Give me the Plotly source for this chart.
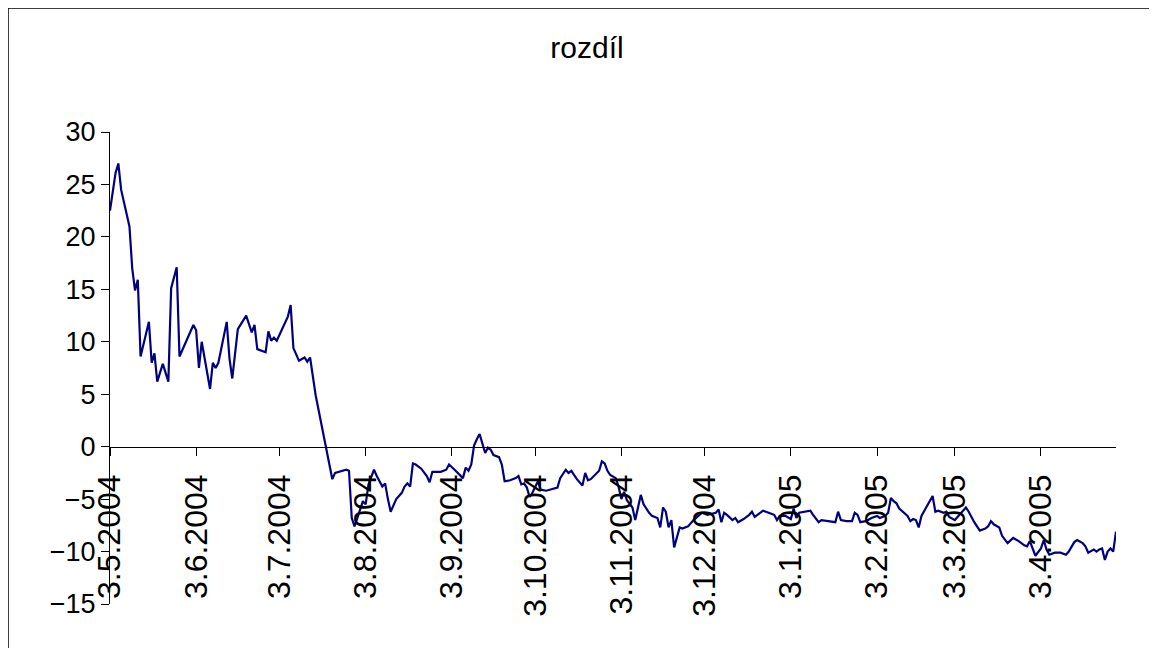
import plotly.graph_objects as go

dates = [
    "2004-05-03", "2004-05-05", "2004-05-06", "2004-05-07", "2004-05-10", "2004-05-11",
    "2004-05-12", "2004-05-13", "2004-05-14", "2004-05-17", "2004-05-18", "2004-05-19",
    "2004-05-20", "2004-05-22", "2004-05-24", "2004-05-25", "2004-05-27", "2004-05-28",
    "2004-06-02", "2004-06-03", "2004-06-04", "2004-06-05", "2004-06-08", "2004-06-09",
    "2004-06-10", "2004-06-11", "2004-06-14", "2004-06-15", "2004-06-16", "2004-06-18",
    "2004-06-21", "2004-06-22", "2004-06-23", "2004-06-24", "2004-06-25", "2004-06-28",
    "2004-06-29", "2004-06-30", "2004-07-01", "2004-07-02", "2004-07-06", "2004-07-07",
    "2004-07-08", "2004-07-10", "2004-07-12", "2004-07-13", "2004-07-14", "2004-07-16",
    "2004-07-19", "2004-07-22", "2004-07-23", "2004-07-27", "2004-07-28", "2004-07-29",
    "2004-07-30", "2004-07-31", "2004-08-02", "2004-08-03", "2004-08-04", "2004-08-06",
    "2004-08-07", "2004-08-09", "2004-08-10", "2004-08-11", "2004-08-12", "2004-08-14",
    "2004-08-16", "2004-08-17", "2004-08-18", "2004-08-19", "2004-08-20", "2004-08-21",
    "2004-08-23", "2004-08-25", "2004-08-26", "2004-08-27", "2004-08-30", "2004-09-01",
    "2004-09-02", "2004-09-04", "2004-09-05", "2004-09-07", "2004-09-08", "2004-09-09",
    "2004-09-10", "2004-09-11", "2004-09-12", "2004-09-13", "2004-09-15", "2004-09-16",
    "2004-09-17", "2004-09-18", "2004-09-20", "2004-09-21", "2004-09-22", "2004-09-24",
    "2004-09-26", "2004-09-27", "2004-09-28", "2004-09-29", "2004-09-30", "2004-10-01",
    "2004-10-02", "2004-10-04", "2004-10-05", "2004-10-07", "2004-10-11", "2004-10-12",
    "2004-10-14", "2004-10-15", "2004-10-16", "2004-10-18", "2004-10-20", "2004-10-21",
    "2004-10-22", "2004-10-23", "2004-10-26", "2004-10-27", "2004-10-28", "2004-10-29",
    "2004-10-30", "2004-11-01", "2004-11-02", "2004-11-03", "2004-11-04", "2004-11-05",
    "2004-11-07", "2004-11-08", "2004-11-10", "2004-11-11", "2004-11-13", "2004-11-14",
    "2004-11-16", "2004-11-17", "2004-11-18", "2004-11-19", "2004-11-20", "2004-11-21",
    "2004-11-22", "2004-11-24", "2004-11-25", "2004-11-27", "2004-11-29", "2004-12-01",
    "2004-12-02", "2004-12-04", "2004-12-07", "2004-12-08", "2004-12-09", "2004-12-10",
    "2004-12-11", "2004-12-13", "2004-12-14", "2004-12-15", "2004-12-17", "2004-12-19",
    "2004-12-20", "2004-12-21", "2004-12-23", "2004-12-24", "2004-12-26", "2004-12-28",
    "2004-12-29", "2004-12-30", "2005-01-01", "2005-01-03", "2005-01-04", "2005-01-05",
    "2005-01-06", "2005-01-08", "2005-01-10", "2005-01-11", "2005-01-13", "2005-01-14",
    "2005-01-17", "2005-01-19", "2005-01-20", "2005-01-21", "2005-01-23", "2005-01-25",
    "2005-01-26", "2005-01-27", "2005-01-28", "2005-01-30", "2005-02-01", "2005-02-03",
    "2005-02-04", "2005-02-06", "2005-02-07", "2005-02-08", "2005-02-09", "2005-02-10",
    "2005-02-11", "2005-02-14", "2005-02-15", "2005-02-16", "2005-02-17", "2005-02-18",
    "2005-02-19", "2005-02-21", "2005-02-23", "2005-02-24", "2005-02-25", "2005-02-27",
    "2005-02-28", "2005-03-01", "2005-03-03", "2005-03-05", "2005-03-07", "2005-03-08",
    "2005-03-10", "2005-03-12", "2005-03-14", "2005-03-15", "2005-03-16", "2005-03-17",
    "2005-03-19", "2005-03-20", "2005-03-22", "2005-03-24", "2005-03-26", "2005-03-28",
    "2005-03-29", "2005-03-30", "2005-03-31", "2005-04-01", "2005-04-03", "2005-04-04",
    "2005-04-05", "2005-04-06", "2005-04-08", "2005-04-10", "2005-04-12", "2005-04-13",
    "2005-04-15", "2005-04-16", "2005-04-18", "2005-04-19", "2005-04-20", "2005-04-22",
    "2005-04-23", "2005-04-24", "2005-04-25", "2005-04-26", "2005-04-27", "2005-04-28",
    "2005-04-29", "2005-04-30",
]

rozdil = [
    22.5, 26.1, 27.0, 24.5, 21.0, 17.0,
    14.9, 15.9, 8.6, 11.9, 8.0, 8.9,
    6.2, 7.9, 6.2, 15.1, 17.1, 8.6,
    11.6, 11.1, 7.5, 10.0, 5.5, 8.0,
    7.5, 8.0, 11.9, 8.4, 6.5, 11.2,
    12.5, 11.8, 10.9, 11.6, 9.3, 9.0,
    11.0, 10.1, 10.4, 10.1, 12.4, 13.5,
    9.4, 8.2, 8.5, 8.1, 8.5, 4.9,
    1.0, -3.1, -2.5, -2.2, -2.3, -6.8,
    -7.6, -6.8, -5.2, -5.5, -3.6, -2.2,
    -2.8, -3.8, -3.5, -5.0, -6.2, -5.0,
    -4.4, -3.8, -3.5, -3.8, -1.6, -1.7,
    -2.1, -2.8, -3.4, -2.4, -2.4, -2.2,
    -1.7, -2.2, -2.5, -3.0, -2.0, -2.3,
    -1.7, 0.1, 0.7, 1.2, -0.6, -0.1,
    -0.3, -0.8, -1.0, -1.7, -3.3, -3.2,
    -3.0, -2.8, -3.6, -3.5, -3.9, -4.8,
    -4.4, -3.3, -4.1, -4.2, -3.9, -3.0,
    -2.2, -2.5, -2.3, -3.1, -3.7, -2.5,
    -3.2, -3.1, -2.3, -1.4, -1.6, -2.3,
    -2.7, -3.0, -3.8, -5.0, -4.3, -5.1,
    -5.8, -7.0, -4.6, -5.5, -6.3, -6.6,
    -6.8, -7.7, -5.8, -6.2, -7.7, -7.0,
    -9.6, -7.7, -7.8, -7.6, -7.0, -6.5,
    -6.3, -6.5, -6.3, -6.0, -7.2, -6.3,
    -6.5, -7.0, -6.8, -7.2, -6.9, -6.5,
    -6.2, -6.7, -6.3, -6.1, -6.3, -6.5,
    -7.0, -6.6, -6.6, -6.9, -5.9, -6.8,
    -6.3, -6.2, -6.1, -6.5, -7.2, -7.0,
    -7.1, -7.2, -6.2, -7.0, -7.1, -7.1,
    -6.3, -6.5, -7.2, -7.1, -6.8, -6.6,
    -6.8, -6.6, -6.3, -4.9, -5.2, -5.4,
    -5.9, -6.6, -7.1, -6.9, -7.0, -7.7,
    -6.6, -5.7, -4.7, -6.2, -6.1, -6.3,
    -6.2, -6.7, -7.0, -6.4, -5.8, -6.2,
    -7.2, -8.0, -7.8, -7.6, -7.1, -7.4,
    -7.7, -8.5, -9.2, -8.7, -9.0, -9.4,
    -9.5, -9.0, -9.7, -10.4, -9.7, -8.9,
    -9.8, -10.3, -10.1, -10.1, -10.3, -10.0,
    -9.1, -8.9, -9.2, -9.5, -10.1, -9.8,
    -10.0, -9.8, -9.7, -10.8, -10.0, -9.7,
    -10.0, -8.1,
]

tick_dates = [
    "2004-05-03", "2004-06-03", "2004-07-03", "2004-08-03", "2004-09-03", "2004-10-03",
    "2004-11-03", "2004-12-03", "2005-01-03", "2005-02-03", "2005-03-03", "2005-04-03",
]
tick_labels = [
    "3.5.2004", "3.6.2004", "3.7.2004", "3.8.2004", "3.9.2004", "3.10.2004",
    "3.11.2004", "3.12.2004", "3.1.2005", "3.2.2005", "3.3.2005", "3.4.2005",
]

y_min, y_max, y_step = -15, 30, 5

# page body has an 8px offset; margins chosen so the plot area lands where the reference has it
L, R, T, B = 102, 49, 124, 52
W, H = 1157, 648
plot_w = W - L - R
plot_h = H - T - B

fig = go.Figure()
fig.add_trace(go.Scatter(
    x=dates, y=rozdil, mode="lines",
    line=dict(color="#000080", width=2.2),
    name="rozdíl", showlegend=False,
))

fig.update_layout(
    width=W, height=H,
    margin=dict(l=L, r=R, t=T, b=B),
    paper_bgcolor="white", plot_bgcolor="white",
    font=dict(family="Liberation Sans, Arial, sans-serif", color="black"),
    title=dict(text="rozdíl", x=579 / W, xanchor="center", xref="container",
               y=1 - 39 / H, yanchor="middle", yref="container",
               font=dict(size=30, color="black")),
    showlegend=False,
    xaxis=dict(
        type="date",
        range=["2004-05-03", "2005-04-30"],
        tickmode="array", tickvals=tick_dates, ticktext=tick_labels,
        tickangle=-90, tickfont=dict(size=32, color="black"),
        ticks="outside", ticklen=8, tickcolor="black", tickwidth=1,
        ticklabelstandoff=6,
        showline=True, linecolor="black", linewidth=1,
        showgrid=False, zeroline=False,
        anchor="free", position=(0 - y_min) / (y_max - y_min),
    ),
    yaxis=dict(
        range=[y_min, y_max], tick0=0, dtick=y_step,
        tickfont=dict(size=27, color="black"),
        ticks="outside", ticklen=8, tickcolor="black", tickwidth=1,
        showline=True, linecolor="black", linewidth=1,
        showgrid=False, zeroline=False,
    ),
    shapes=[dict(type="rect", xref="paper", yref="paper",
                 x0=-L / plot_w, x1=1 + (R + 20) / plot_w,
                 y0=-(B + 20) / plot_h, y1=1 + T / plot_h,
                 line=dict(color="black", width=1.5), fillcolor="rgba(0,0,0,0)",
                 layer="above")],
)

fig.write_html("out.html")
